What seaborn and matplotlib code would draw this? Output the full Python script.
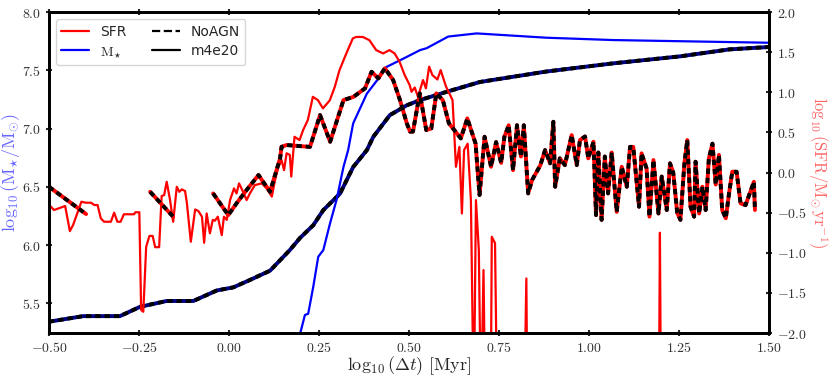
import numpy as np
import pandas as pd
import matplotlib
matplotlib.use("Agg")
import matplotlib.pyplot as plt
import seaborn as sns
from matplotlib.ticker import FuncFormatter, MultipleLocator
from matplotlib.lines import Line2D

#   data
# stellar mass, NoAGN run
mstar_noagn_x = [-0.5, -0.405, -0.303, -0.247, -0.173, -0.099, -0.034, 0.012, 0.058, 0.114,
                 0.169, 0.197, 0.234, 0.262, 0.308, 0.345, 0.383, 0.401, 0.447, 0.494,
                 0.531, 0.605, 0.697, 0.882, 1.067, 1.253, 1.39, 1.498]
mstar_noagn = [5.342, 5.39, 5.39, 5.47, 5.52, 5.52, 5.61, 5.637, 5.70, 5.78,
               5.957, 6.06, 6.17, 6.30, 6.44, 6.67, 6.815, 6.93, 7.116, 7.20,
               7.245, 7.316, 7.40, 7.49, 7.56, 7.62, 7.68, 7.70]

# stellar mass, m4e20 run
mstar_m4e20_x = [0.195, 0.199, 0.211, 0.220, 0.234, 0.248, 0.262, 0.281, 0.299, 0.318,
                 0.331, 0.345, 0.383, 0.419, 0.438, 0.484, 0.531, 0.549, 0.609, 0.688,
                 0.882, 1.067, 1.253, 1.498]
mstar_m4e20 = [5.10, 5.256, 5.40, 5.41, 5.64, 5.90, 5.957, 6.19, 6.39, 6.67,
               6.815, 7.045, 7.30, 7.445, 7.53, 7.60, 7.674, 7.69, 7.79, 7.817,
               7.78, 7.76, 7.75, 7.737]

# SFR, m4e20 run (-3 = below the plotted range)
sfr_m4e20_x = [-0.5, -0.486, -0.455, -0.442, -0.433, -0.41, -0.397, -0.383, -0.374, -0.365,
               -0.356, -0.347, -0.328, -0.319, -0.310, -0.301, -0.292, -0.264, -0.260, -0.249,
               -0.244, -0.238, -0.230, -0.221, -0.212, -0.205, -0.194, -0.187, -0.180, -0.173,
               -0.164, -0.155, -0.145, -0.138, -0.131, -0.122, -0.117, -0.106, -0.094, -0.085,
               -0.075, -0.069, -0.062, -0.053, -0.045, -0.039, -0.031, -0.020, -0.014, -0.006,
               0.003, 0.014, 0.021, 0.028, 0.035, 0.049, 0.058, 0.072, 0.091, 0.105,
               0.119, 0.128, 0.137, 0.146, 0.153, 0.160, 0.169, 0.173, 0.182, 0.196,
               0.206, 0.219, 0.233, 0.247, 0.261, 0.280, 0.294, 0.307, 0.326, 0.344,
               0.353, 0.372, 0.390, 0.409, 0.428, 0.446, 0.460, 0.474, 0.488, 0.502,
               0.507, 0.516, 0.525, 0.539, 0.547, 0.556, 0.565, 0.579, 0.588, 0.603,
               0.612, 0.621, 0.6305, 0.640, 0.647, 0.653, 0.663, 0.672, 0.680, 0.686,
               0.694, 0.700, 0.707, 0.712, 0.727, 0.730, 0.739, 0.745, 0.820, 0.826,
               0.829, 1.194, 1.197, 1.200, 1.5]
sfr_m4e20 = [-0.40, -0.467, -0.417, -0.73, -0.654, -0.364, -0.376, -0.376, -0.405, -0.405,
             -0.571, -0.613, -0.613, -0.50, -0.613, -0.613, -0.52, -0.52, -0.495, -0.495,
             -1.713, -1.735, -0.925, -0.79, -0.79, -0.93, -0.93, -0.293, -0.28, -0.115,
             -0.334, -0.613, -0.177, -0.24, -0.21, -0.23, -0.376, -0.862, -0.46, -0.48,
             -0.55, -0.875, -0.51, -0.757, -0.59, -0.60, -0.55, -0.78, -0.55, -0.59,
             -0.343, -0.197, -0.26, -0.135, -0.20, -0.343, -0.26, -0.156, -0.135, -0.197,
             -0.30, -0.093, 0.07, 0.156, 0.03, 0.24, 0.22, -0.05, 0.446, 0.405,
             0.53, 0.654, 0.944, 0.903, 0.80, 0.90, 1.07, 1.277, 1.485, 1.672,
             1.69, 1.69, 1.65, 1.526, 1.485, 1.526, 1.485, 1.38, 1.215, 1.09,
             1.007, 1.06, 0.944, 1.153, 1.05, 1.32, 1.215, 1.16, 1.277, 1.07,
             0.987, 0.903, 0.072, 0.32, -0.51, 0.28, 0.36, -0.343, -3.0, -0.343,
             -0.966, -3.0, -1.215, -3.0, -3.0, -0.80, -0.88, -3.0, -3.0, -1.32,
             -3.0, -3.0, -0.75, -3.0, -3.0]

# SFR, NoAGN run: three pieces with gaps in between
sfr_noagn_x1 = [-0.5, -0.397]
sfr_noagn_1 = [-0.177, -0.517]
sfr_noagn_x2 = [-0.219, -0.155]
sfr_noagn_2 = [-0.24, -0.55]
sfr_noagn_x3 = [-0.044, -0.002, 0.021, 0.049, 0.082, 0.114, 0.142, 0.146, 0.160, 0.225,
                0.253, 0.281, 0.318, 0.346, 0.378, 0.396, 0.415, 0.433, 0.456, 0.475,
                0.494, 0.503, 0.511, 0.530, 0.548, 0.562, 0.576, 0.594, 0.611, 0.644,
                0.662, 0.685, 0.696, 0.710, 0.728, 0.742, 0.756, 0.765, 0.777, 0.789,
                0.800, 0.811, 0.819, 0.831, 0.842, 0.865, 0.878, 0.892, 0.901, 0.906,
                0.919, 0.933, 0.952, 0.966, 0.975, 0.989, 0.998, 1.0125, 1.0195, 1.026,
                1.035, 1.044, 1.053, 1.063, 1.077, 1.091, 1.105, 1.114, 1.123, 1.139,
                1.146, 1.160, 1.168, 1.179, 1.193, 1.202, 1.216, 1.225, 1.234, 1.245,
                1.254, 1.265, 1.273, 1.282, 1.292, 1.296, 1.306, 1.315, 1.324, 1.333,
                1.343, 1.352, 1.361, 1.370, 1.380, 1.389, 1.398, 1.410, 1.421, 1.435,
                1.458, 1.461]
sfr_noagn_3 = [-0.26, -0.53, -0.384, -0.218, -0.031, -0.24, 0.177, 0.32, 0.343, 0.32,
               0.716, 0.384, 0.903, 0.944, 1.05, 1.256, 1.174, 1.30, 1.153, 0.903,
               0.613, 0.51, 0.51, 0.987, 0.53, 0.55, 0.987, 0.903, 0.613, 0.426,
               0.675, 0.36, -0.28, 0.446, 0.072, 0.38, 0.12, 0.446, 0.59, 0.03,
               0.59, 0.2, 0.59, -0.26, -0.093, 0.093, 0.28, 0.115, 0.633, -0.177,
               0.177, 0.093, 0.467, 0.093, 0.405, 0.45, 0.177, 0.384, -0.53, 0.25,
               -0.59, 0.2, -0.26, 0.25, -0.49, 0.072, -0.177, 0.32, 0.32, -0.426,
               0.24, 0.05, -0.55, 0.156, -0.51, -0.05, -0.467, 0.115, 0.0, -0.5,
               -0.59, 0.115, 0.405, -0.426, -0.55, 0.135, -0.51, -0.177, -0.467, 0.177,
               0.36, -0.15, 0.22, -0.467, -0.57, -0.26, 0.01, 0.01, -0.384, -0.405,
               -0.115, -0.467]

sns.set_style("ticks")
plt.rcParams['font.family'] = ['DejaVu Sans']
plt.rcParams['mathtext.fontset'] = 'cm'


def draw(ax, x, y, color, dashed):
    df = pd.DataFrame({'x': x, 'y': y})
    if dashed:
        # coloured line with black dashes on top, same width
        sns.lineplot(data=df, x='x', y='y', ax=ax, color=color, lw=2.8,
                     estimator=None, sort=False)
        sns.lineplot(data=df, x='x', y='y', ax=ax, color='black', lw=2.8,
                     estimator=None, sort=False)
        ax.lines[-1].set_linestyle((0, (1.4, 1.0)))
        ax.lines[-1].set_dash_capstyle('butt')
    else:
        sns.lineplot(data=df, x='x', y='y', ax=ax, color=color, lw=1.6,
                     estimator=None, sort=False)


fig = plt.figure(figsize=(8.3, 3.78), dpi=100)
ax = fig.add_axes([0.059, 0.119, 0.8675, 0.849])
ax2 = ax.twinx()

draw(ax, mstar_noagn_x, mstar_noagn, 'navy', True)
draw(ax, mstar_m4e20_x, mstar_m4e20, 'blue', False)

draw(ax2, sfr_m4e20_x, sfr_m4e20, 'red', False)
draw(ax2, sfr_noagn_x1, sfr_noagn_1, 'red', True)
draw(ax2, sfr_noagn_x2, sfr_noagn_2, 'red', True)
draw(ax2, sfr_noagn_x3, sfr_noagn_3, 'red', True)

ax.set_xlim(-0.5, 1.5)
ax.set_ylim(5.245, 8.0)
ax2.set_ylim(-2.0, 2.0)

ax.xaxis.set_major_locator(MultipleLocator(0.25))
ax.yaxis.set_major_locator(MultipleLocator(0.5))
ax2.yaxis.set_major_locator(MultipleLocator(0.5))
ax.xaxis.set_major_formatter(FuncFormatter(lambda v, p: '$%.2f$' % v))
ax.yaxis.set_major_formatter(FuncFormatter(lambda v, p: '$%.1f$' % v))
ax2.yaxis.set_major_formatter(FuncFormatter(lambda v, p: '$%.1f$' % v))

for a in (ax, ax2):
    for s in a.spines.values():
        s.set_linewidth(2.0)
        s.set_color('black')
    a.tick_params(direction='inout', length=4, width=1.5, labelsize=10,
                  labelcolor='#333333')
ax.tick_params(axis='x', top=True)
ax2.tick_params(axis='y', right=True, left=False)

ax.set_xlabel(r'$\log_{10}(\Delta t)\ [\mathrm{Myr}]$', fontsize=13, labelpad=0)
ax.set_ylabel(r'$\log_{10}(\mathrm{M}_{\star}/\mathrm{M}_{\odot})$', fontsize=13,
              color='blue', alpha=0.6, labelpad=0)
ax2.set_ylabel(r'$\log_{10}(\mathrm{SFR}/\mathrm{M}_{\odot}\,\mathrm{yr}^{-1})$',
               fontsize=12, color='red', alpha=0.6, rotation=270, labelpad=17)

handles = [Line2D([], [], color='red', lw=1.6),
           Line2D([], [], color='blue', lw=1.6),
           Line2D([], [], color='black', lw=1.6, ls='--'),
           Line2D([], [], color='black', lw=1.6)]
labels = ['SFR', r'$\mathrm{M}_{\star}$', 'NoAGN', 'm4e20']
ax2.legend(handles, labels, loc='upper left', ncol=2, fontsize=10,
           frameon=True, borderpad=0.4, handlelength=2.0, columnspacing=1.8,
           labelspacing=0.4, bbox_to_anchor=(0.0, 1.0))

fig.savefig('out.png', dpi=100)
